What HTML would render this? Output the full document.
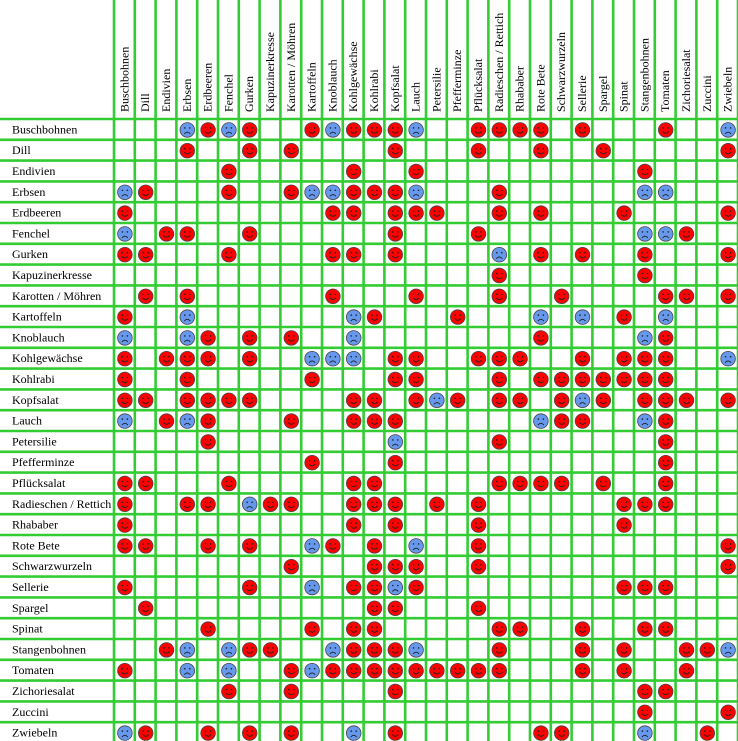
<!DOCTYPE html>
<html><head><meta charset="utf-8"><style>
html,body{margin:0;padding:0;background:#fff;}
svg{display:block;}
text{font-family:"Liberation Serif",serif;font-size:12px;fill:#000;}
</style></head><body>
<svg id="chart" width="738" height="741" viewBox="0 0 738 741" xmlns="http://www.w3.org/2000/svg"></svg>
<script>
const plants = ["Buschbohnen","Dill","Endivien","Erbsen","Erdbeeren","Fenchel","Gurken","Kapuzinerkresse","Karotten / Möhren","Kartoffeln","Knoblauch","Kohlgewächse","Kohlrabi","Kopfsalat","Lauch","Petersilie","Pfefferminze","Pflücksalat","Radieschen / Rettich","Rhababer","Rote Bete","Schwarzwurzeln","Sellerie","Spargel","Spinat","Stangenbohnen","Tomaten","Zichoriesalat","Zuccini","Zwiebeln"];
// R = good neighbour, B = bad neighbour, . = none
const matrix = [
"...BRBR..RBRRRB..RRRR.R...R..B",
"...R..R.R....R...R..R..R.....R",
".....R.....R..R..........R....",
"BR...R..RBBRRRB...R......BB...",
"R.........RR.RRR..R.R...R....R",
"B.RR..R......R...R.......BBR..",
"RR...R....RR.R....B.R.R..R...R",
"..................R......R....",
".R.R......R...R...R..R....RR.R",
"R..B.......BR...R...B.B.R.B...",
"B..BR.R.R..B........R....BR...",
"R.RRR.R..BBB.RR..RRR..R.RRR..B",
"R..R.....R...RR...R.RRRRRRR...",
"RR.RRRR....RR.RBR.RR.RBR.RRR.R",
"B.RBR...R..RRR......BRR..BR...",
"....R........B....R.......R...",
".........R...R............R...",
"RR...R.....RR.....RRRR.R..R...",
"R..RR.BRR..RRR.R.R......RRR...",
"R..........R.R...R......R.....",
"RR..R.R..BR.R.B..R...........R",
"........R...RRR..R...........R",
"R.....R..B.RRBR.........RRR...",
".R..........RR...R............",
"....R....R.RR.....RR..R..RR...",
"..RB.BRR..BRRRB...R...R.R..RRB",
"R..B.B..RBRRRRRRRRR...R.R..R..",
".....R..R....R...........RR...",
".........................R...R",
"BR..R.R.R..B.R......RR...B..R."
];
const svgNS = "http://www.w3.org/2000/svg";
const svg = document.getElementById('chart');
const X0 = 114, Y0 = 119, CW = 20.8, RH = 20.8;
const N = plants.length;
function colX(i){ return X0 + i*CW; }
function rowY(j){ return Y0 + j*RH; }
function mk(tag, attrs){ const e = document.createElementNS(svgNS, tag); for (const k in attrs) e.setAttribute(k, attrs[k]); svg.appendChild(e); return e; }
mk('rect',{x:0,y:0,width:738,height:741,fill:'#fff'});
const grid = document.createElementNS(svgNS,'g');
for (let i=0;i<=N;i++){
  const x = colX(i);
  const l = document.createElementNS(svgNS,'line');
  l.setAttribute('x1',x);l.setAttribute('x2',x);l.setAttribute('y1',0);l.setAttribute('y2',741);
  l.setAttribute('stroke','#33cc33');l.setAttribute('stroke-width','2.6');
  
  
  grid.appendChild(l);
}
for (let j=0;j<=N;j++){
  const y = rowY(j);
  const l = document.createElementNS(svgNS,'line');
  l.setAttribute('x1',0);l.setAttribute('x2',738);l.setAttribute('y1',y);l.setAttribute('y2',y);
  l.setAttribute('stroke','#33cc33');l.setAttribute('stroke-width','2.6');
  
  
  grid.appendChild(l);
}
svg.appendChild(grid);
plants.forEach((p,i)=>{
  const cx = colX(i)+CW/2+4, y = 112;
  const t = mk('text',{x:cx,y:y,transform:`rotate(-90 ${cx} ${y})`});
  t.textContent = p;
  
  
  const r = mk('text',{x:12,y:rowY(i)+RH/2+4});
  r.textContent = p;
  
  
});
matrix.forEach((row,j)=>{
  for (let i=0;i<N;i++){
    const c = row[i];
    if (c!=='R' && c!=='B') continue;
    const cx = colX(i)+CW/2+0.5, cy = rowY(j)+RH/2+0.5;
    const g = document.createElementNS(svgNS,'g');
    
    
    const circ = document.createElementNS(svgNS,'circle');
    circ.setAttribute('cx',cx);circ.setAttribute('cy',cy);circ.setAttribute('r',7.3);
    circ.setAttribute('fill', c==='R' ? '#ff0000' : '#6699ee');
    circ.setAttribute('stroke','#444');circ.setAttribute('stroke-width','0.8');
    g.appendChild(circ);
    [-2.5,2.5].forEach(dx=>{
      const e = document.createElementNS(svgNS,'circle');
      e.setAttribute('cx',cx+dx);e.setAttribute('cy',cy-2);e.setAttribute('r',0.8);e.setAttribute('fill','#222');
      g.appendChild(e);
    });
    const m = document.createElementNS(svgNS,'path');
    const d = c==='R' ? `M${cx-3} ${cy+1.5} Q${cx} ${cy+5} ${cx+3} ${cy+1.5}` : `M${cx-3} ${cy+4} Q${cx} ${cy+0.5} ${cx+3} ${cy+4}`;
    m.setAttribute('d',d);m.setAttribute('fill','none');m.setAttribute('stroke','#222');m.setAttribute('stroke-width','0.9');
    g.appendChild(m);
    svg.appendChild(g);
  }
});
</script>
</body></html>
